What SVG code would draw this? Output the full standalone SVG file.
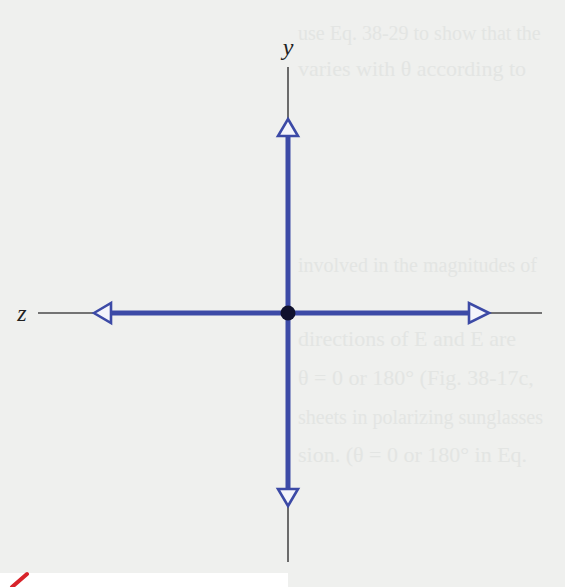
<svg xmlns="http://www.w3.org/2000/svg" width="565" height="587" viewBox="0 0 565 587">
  <style>
    .bg { fill: #eff0ee; }
    .ghost { font-family: "Liberation Serif", serif; font-size: 22px; fill: #e3e5e3; }
    .axis { stroke: #4a4a4a; stroke-width: 1.6; fill: none; }
    .vec { stroke: #3c4aa6; stroke-width: 5; fill: none; }
    .head { fill: #f4f5fb; stroke: #3c4aa6; stroke-width: 2.6; stroke-linejoin: miter; }
    .label { font-family: "Liberation Serif", serif; font-style: italic; font-size: 24px; fill: #222222; }
  </style>
  <rect class="bg" x="0" y="0" width="565" height="587"/>
  <g id="show-through">
    <text class="ghost" x="298" y="40" style="font-size:20px">use Eq. 38-29 to show that the</text>
    <text class="ghost" x="298" y="76">varies with θ according to</text>
    <text class="ghost" x="298" y="272" style="font-size:20px">involved in the magnitudes of</text>
    <text class="ghost" x="298" y="346">directions of E and E are</text>
    <text class="ghost" x="298" y="385">θ = 0 or 180° (Fig. 38-17c,</text>
    <text class="ghost" x="298" y="424" style="font-size:20px">sheets in polarizing sunglasses</text>
    <text class="ghost" x="298" y="462">sion. (θ = 0 or 180° in Eq.</text>
  </g>
  <rect x="0" y="573" width="288" height="14" fill="#ffffff"/>
  <path d="M12 587 L27 574" stroke="#d8232a" stroke-width="4" stroke-linecap="round"/>
  <g id="connectors">
    <line class="axis" x1="288" y1="67" x2="288" y2="562"/>
    <line class="axis" x1="38" y1="313" x2="542" y2="313"/>
    <line class="vec" x1="288" y1="136" x2="288" y2="488"/>
    <line class="vec" x1="112" y1="313" x2="468" y2="313"/>
    <polygon class="head" points="288,119 298,136 278,136"/>
    <polygon class="head" points="288,506 298,489 278,489"/>
    <polygon class="head" points="94,313 111,303 111,323"/>
    <polygon class="head" points="489,313 469,303 469,323"/>
  </g>
  <g id="origin">
    <circle cx="288" cy="313" r="7.5" fill="#10122e"/>
  </g>
  <g id="label-y">
    <text class="label" x="288" y="55" text-anchor="middle">y</text>
  </g>
  <g id="label-z">
    <text class="label" x="22" y="321" text-anchor="middle">z</text>
  </g>
</svg>
